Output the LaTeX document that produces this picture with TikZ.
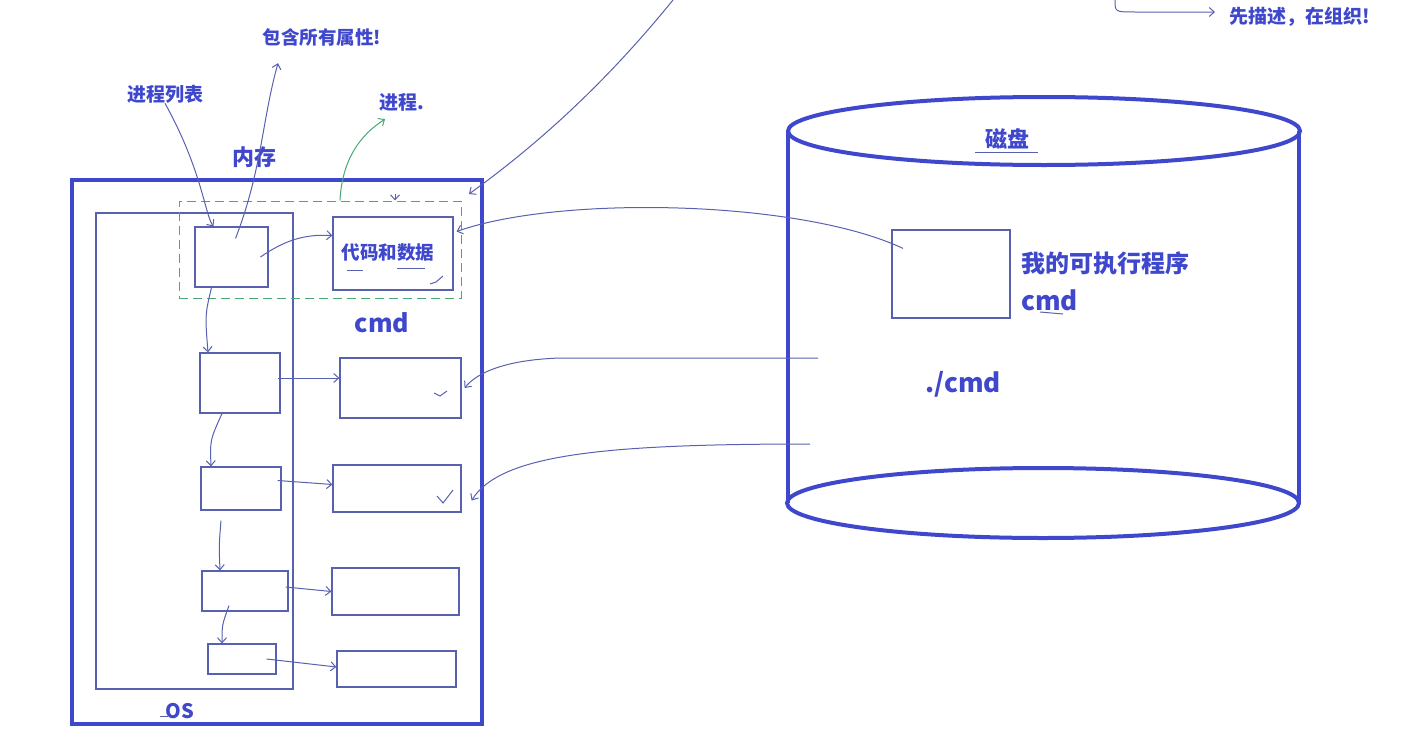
\documentclass[tikz,border=0pt]{standalone}
\usepackage{fontspec}
\newfontfamily\cjk{Noto Sans CJK SC}
\usetikzlibrary{arrows.meta}
\definecolor{inkblue}{RGB}{63,72,204}
\definecolor{penblue}{RGB}{88,96,176}
\definecolor{pengreen}{RGB}{72,168,118}
\tikzset{
  txt/.style={text=inkblue, inner sep=0pt, font=\cjk\bfseries\fontsize{#1}{#1}\selectfont},
  box/.style={draw=penblue, line width=1.2pt, inner sep=0pt},
  wall/.style={draw=inkblue, line width=4pt},
  pen/.style={draw=penblue, line width=1pt, -{Straight Barb[length=5pt,width=9pt]}},
  tick/.style={draw=penblue, line width=1pt}
}
\begin{document}
\begin{tikzpicture}[x=1pt,y=-1pt]
  \useasboundingbox (0,0) rectangle (1405,736);
  % memory side
  \node[box, wall, minimum width=410, minimum height=544] (mem) at (277,452) {};
  \node[box, minimum width=197, minimum height=476] (os) at (194.5,451) {};
  \node[draw=pengreen, line width=1pt, dash pattern=on 9pt off 5pt, inner sep=0pt,
        minimum width=282, minimum height=97] (proc) at (320,249.5) {};
  \node[box, minimum width=73, minimum height=60] (p1) at (231.5,257) {};
  \node[box, minimum width=80, minimum height=60] (p2) at (240,383) {};
  \node[box, minimum width=80, minimum height=43] (p3) at (241,488.5) {};
  \node[box, minimum width=86, minimum height=40] (p4) at (245,591) {};
  \node[box, minimum width=68, minimum height=30] (p5) at (242,659) {};
  \node[box, minimum width=120, minimum height=73] (c1) at (393,253.5) {};
  \node[box, minimum width=121, minimum height=60] (c2) at (400.5,388) {};
  \node[box, minimum width=128, minimum height=47] (c3) at (397,488.5) {};
  \node[box, minimum width=127, minimum height=47] (c4) at (395.5,591.5) {};
  \node[box, minimum width=119, minimum height=36] (c5) at (396.5,669) {};
  \node[txt=18.5] (code) at (388,253) {代码和数据};
  \node[txt=22] (memname) at (254,157) {内存};
  \node[txt=19] (lst) at (165,94) {进程列表};
  \node[txt=18.5] (attr) at (322,37) {包含所有属性!};
  \node[txt=19] (pname) at (402,102) {进程.};
  \node[txt=25] (cmd) at (382,323) {cmd};
  \node[txt=20] (osname) at (180,711) {OS};
  % disk side
  \draw[wall] (788,131) -- (788,503) (1299,131) -- (1299,503);
  \draw[wall] (1044,131) ellipse [x radius=256, y radius=34];
  \draw[wall] (1043,503) ellipse [x radius=256, y radius=35];
  \node[box, minimum width=118, minimum height=88] (exe) at (951,274) {};
  \node[txt=22] (disk) at (1007,139) {磁盘};
  \node[txt=24, anchor=west] (exename) at (1021,263) {我的可执行程序};
  \node[txt=26, anchor=west] (execmd) at (1021,300) {cmd};
  \node[txt=26] (run) at (963,384) {./cmd};
  \node[txt=19, anchor=west] (desc) at (1229,17) {先描述，在组织!};
  \coordinate (top) at (673,0);
  \coordinate (corner) at (1115,0);
  \coordinate (d2) at (818,358);
  \coordinate (d3) at (810,444);
  % connectors
  \draw[pen] (lst.south) .. controls (202,170) and (205,215) .. ([xshift=-18]p1.north);
  \draw[pen] ([xshift=4,yshift=-12]p1.north) .. controls (262,170) and (262,120) .. ([xshift=-44,yshift=-17]attr.south);
  \draw[pen, draw=pengreen] ([xshift=20]proc.north) .. controls (342,160) and (360,135) .. ([xshift=-17,yshift=-8]pname.south);
  \draw[pen] ([xshift=29]p1.center) .. controls (285,240) and (305,234) .. ([yshift=18]c1.west);
  \draw[pen] ([xshift=-48,yshift=-19]exe.north) .. controls (800,200) and (560,195) .. ([xshift=3,yshift=22]c1.east);
  \draw[pen] (d2) -- (560,358) .. controls (500,360) and (475,375) .. ([xshift=3]c2.east);
  \draw[pen] (d3) .. controls (600,444) and (500,455) .. ([xshift=10,yshift=-12]c3.east);
  \draw[pen] (top) .. controls (600,90) and (530,150) .. ([xshift=-15,yshift=-16]mem.north east);
  \draw[pen] (corner) .. controls (1115,12) .. (1135,12) -- ([xshift=-14,yshift=5]desc.west);
  \draw[pen] (395,194) -- ([xshift=75]proc.north);
  \draw[pen] ([xshift=-20]p1.south) .. controls (205,315) .. ([xshift=-32]p2.north);
  \draw[pen] ([xshift=-18]p2.south) .. controls (210,440) .. ([xshift=-30]p3.north);
  \draw[pen] ([xshift=-20,yshift=-10]p3.south) .. controls (219,545) .. ([xshift=-25]p4.north);
  \draw[pen] ([xshift=-16,yshift=6]p4.south) .. controls (222,625) .. ([xshift=-20]p5.north);
  \draw[pen] ([xshift=-3,yshift=5]p2.east) -- ([yshift=10]c2.west);
  \draw[pen] ([xshift=-4,yshift=8]p3.east) -- ([yshift=4]c3.west);
  \draw[pen] ([xshift=-3,yshift=4]p4.east) -- (c4.west);
  \draw[pen] ([xshift=-10]p5.east) -- ([yshift=2]c5.west);
  % ticks and underlines
  \draw[tick] (347,270) -- (363,270) (397,268) -- (425,268);
  \draw[tick] (430,284) -- (436,282) -- (443,276);
  \draw[tick] (434,393) -- (440,396) -- (447,391);
  \draw[tick] (437,496) -- (443,503) -- (453,490);
  \draw[tick] (975,152) -- (1038,152);
  \draw[tick] (1040,312) -- (1063,314);
  \draw[tick] (160,716) -- (168,716);
\end{tikzpicture}
\end{document}
